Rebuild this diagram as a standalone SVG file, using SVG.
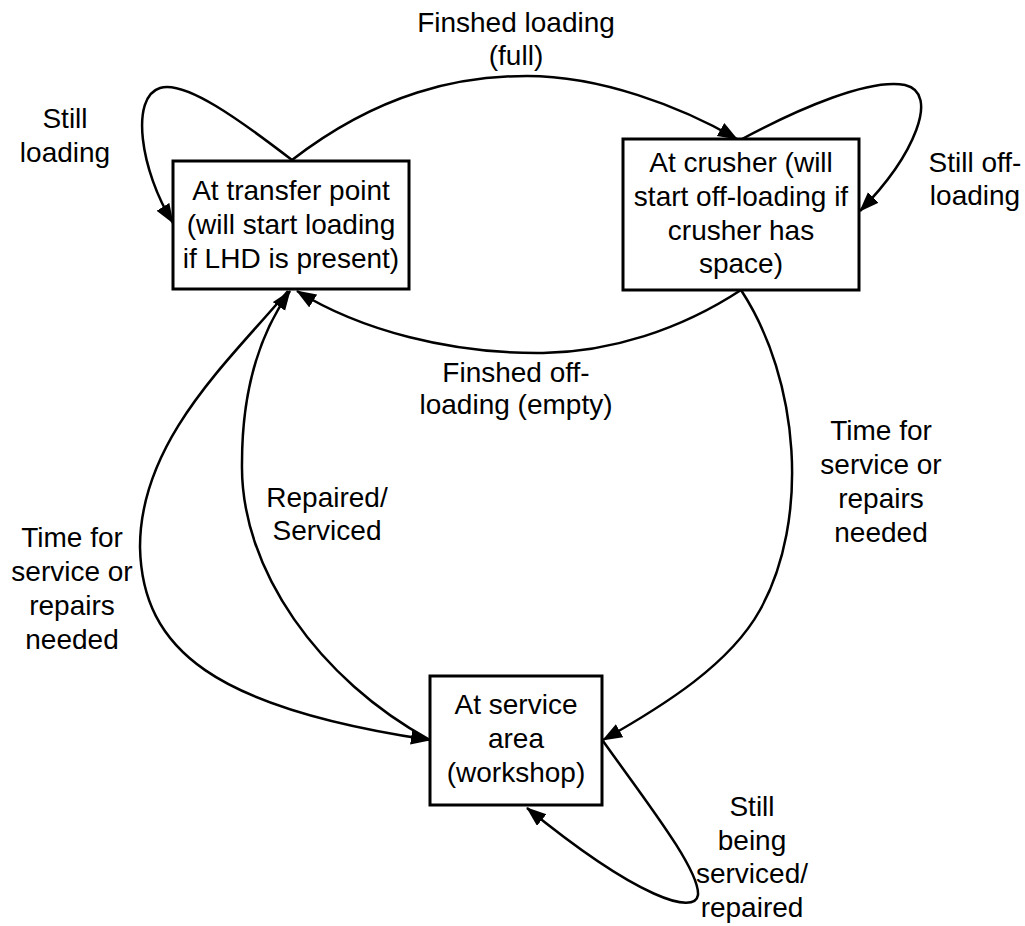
<svg xmlns="http://www.w3.org/2000/svg" width="1025" height="926" viewBox="0 0 1025 926">
  <style>
    .box { fill: #ffffff; stroke: #000000; stroke-width: 3; }
    .edge { fill: none; stroke: #000000; stroke-width: 2.5; marker-end: url(#arrow); }
    text { font-family: "Liberation Sans", Arial, sans-serif; font-size: 28px; fill: #000000; text-anchor: middle; }
  </style>
  <defs>
    <marker id="arrow" markerUnits="userSpaceOnUse" markerWidth="21" markerHeight="16" refX="19" refY="7.5" orient="auto">
      <path d="M0,0 L20,7.5 L0,15 z" fill="#000000"/>
    </marker>
  </defs>
  <rect width="1025" height="926" fill="#ffffff"/>

  <!-- transitions -->
  <g id="connectors">
    <!-- Still loading (self loop on transfer point) -->
    <path class="edge" d="M292,160 C240,120 185,80 160,88 C130,97 140,170 173,223"/>
    <!-- Finished loading (full): transfer point -> crusher -->
    <path class="edge" d="M292,160 C380,92 460,76 527,76 C600,76 680,106 737,139"/>
    <!-- Still off-loading (self loop on crusher) -->
    <path class="edge" d="M742,139 C800,108 870,78 905,85 C940,93 915,155 860,211"/>
    <!-- Finished off-loading (empty): crusher -> transfer point -->
    <path class="edge" d="M741,290 C680,330 610,352 543,353 C450,354 360,330 297,291"/>
    <!-- Time for service: crusher -> service area -->
    <path class="edge" d="M741,290 C800,380 810,520 760,610 C730,664 665,705 603,740"/>
    <!-- Time for service: transfer point -> service area -->
    <path class="edge" d="M288,291 C230,360 140,440 140,547 C142,650 215,708 430,740"/>
    <!-- Repaired/Serviced: service area -> transfer point -->
    <path class="edge" d="M430,740 C320,680 240,570 242,463 C242,400 255,340 290,291"/>
    <!-- Still being serviced (self loop on service area) -->
    <path class="edge" d="M603,741 C645,800 700,870 698,895 C695,915 640,900 527,808"/>
  </g>

  <!-- transition labels -->
  <g id="labels">
    <text x="65" y="128">Still</text>
    <text x="65" y="162">loading</text>
    <text x="516" y="32">Finshed loading</text>
    <text x="516" y="65">(full)</text>
    <text x="975" y="172">Still off-</text>
    <text x="975" y="205">loading</text>
    <text x="516" y="382">Finshed off-</text>
    <text x="516" y="414">loading (empty)</text>
    <text x="881" y="440">Time for</text>
    <text x="881" y="474">service or</text>
    <text x="881" y="508">repairs</text>
    <text x="881" y="542">needed</text>
    <text x="72" y="547">Time for</text>
    <text x="72" y="581">service or</text>
    <text x="72" y="615">repairs</text>
    <text x="72" y="649">needed</text>
    <text x="327" y="507">Repaired/</text>
    <text x="327" y="540">Serviced</text>
    <text x="752" y="816">Still</text>
    <text x="752" y="850">being</text>
    <text x="752" y="883">serviced/</text>
    <text x="752" y="917">repaired</text>
  </g>

  <!-- states -->
  <g id="transfer-point">
    <rect class="box" x="173" y="161" width="236" height="128"/>
    <text x="291" y="200">At transfer point</text>
    <text x="291" y="234">(will start loading</text>
    <text x="291" y="268">if LHD is present)</text>
  </g>
  <g id="crusher">
    <rect class="box" x="623" y="139" width="236" height="151"/>
    <text x="741" y="172">At crusher (will</text>
    <text x="741" y="206">start off-loading if</text>
    <text x="741" y="239.5">crusher has</text>
    <text x="741" y="273">space)</text>
  </g>
  <g id="service-area">
    <rect class="box" x="430" y="676" width="172" height="129"/>
    <text x="516" y="714">At service</text>
    <text x="516" y="748">area</text>
    <text x="516" y="782">(workshop)</text>
  </g>
</svg>
